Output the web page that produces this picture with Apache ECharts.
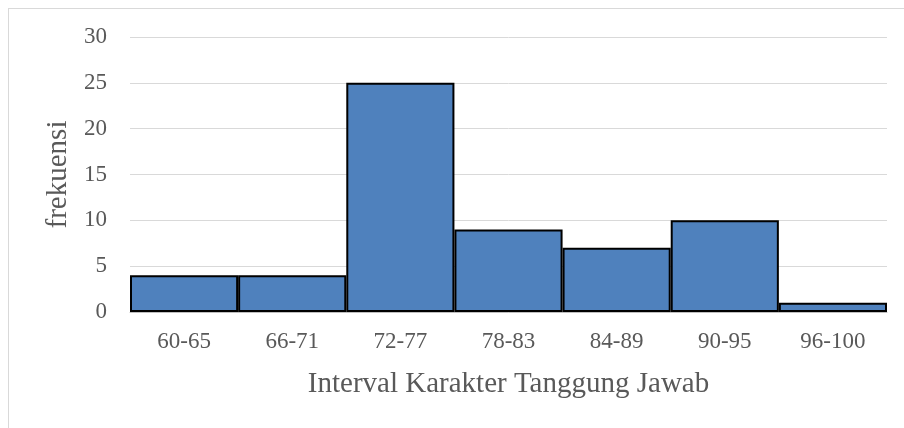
<!DOCTYPE html>
<html>
<head>
<meta charset="utf-8">
<script src="https://cdn.jsdelivr.net/npm/echarts@6/dist/echarts.min.js"></script>
<style>
  html, body { margin: 0; padding: 0; background: #fff; }
  /* outer chart frame: only top/left edges fall inside the picture */
  #frame { position: absolute; left: 8px; top: 8px; width: 1000px; height: 500px; border-top: 1px solid #d9d9d9; border-left: 1px solid #d9d9d9; }
  #chart { position: absolute; left: 0; top: 0; width: 904px; height: 428px; }
</style>
</head>
<body>
<div id="frame"></div>
<div id="chart"></div>
<script>
const categories = ['60-65', '66-71', '72-77', '78-83', '84-89', '90-95', '96-100'];
const frekuensi = [4, 4, 25, 9, 7, 10, 1];
const yMax = 30;
const yStep = 5;

const font = '"Liberation Serif", "DejaVu Serif", serif';
const chart = echarts.init(document.getElementById('chart'));

chart.setOption({
    animation: false,
    grid: { left: 130, right: 17, top: 37, bottom: 116 },
    xAxis: {
        type: 'category',
        data: categories,
        name: 'Interval Karakter Tanggung Jawab',
        nameLocation: 'middle',
        nameGap: 58,
        nameTextStyle: { fontFamily: font, fontSize: 29, color: '#595959' },
        axisLine: { lineStyle: { color: '#bfbfbf', width: 1 } },
        axisTick: { show: false },
        axisLabel: { fontFamily: font, fontSize: 23, color: '#595959', margin: 18 }
    },
    yAxis: {
        type: 'value',
        min: 0,
        max: yMax,
        interval: yStep,
        name: 'frekuensi',
        nameLocation: 'middle',
        nameGap: 54,
        nameTextStyle: { fontFamily: font, fontSize: 29, color: '#595959' },
        axisLine: { show: false },
        axisTick: { show: false },
        axisLabel: { fontFamily: font, fontSize: 23, color: '#595959', margin: 23 },
        splitLine: { lineStyle: { color: '#d9d9d9', width: 1 } }
    },
    series: [{
        type: 'bar',
        data: frekuensi,
        barCategoryGap: 0,
        itemStyle: { color: '#4f81bd', borderColor: '#000', borderWidth: 2 }
    }]
});
</script>
</body>
</html>
